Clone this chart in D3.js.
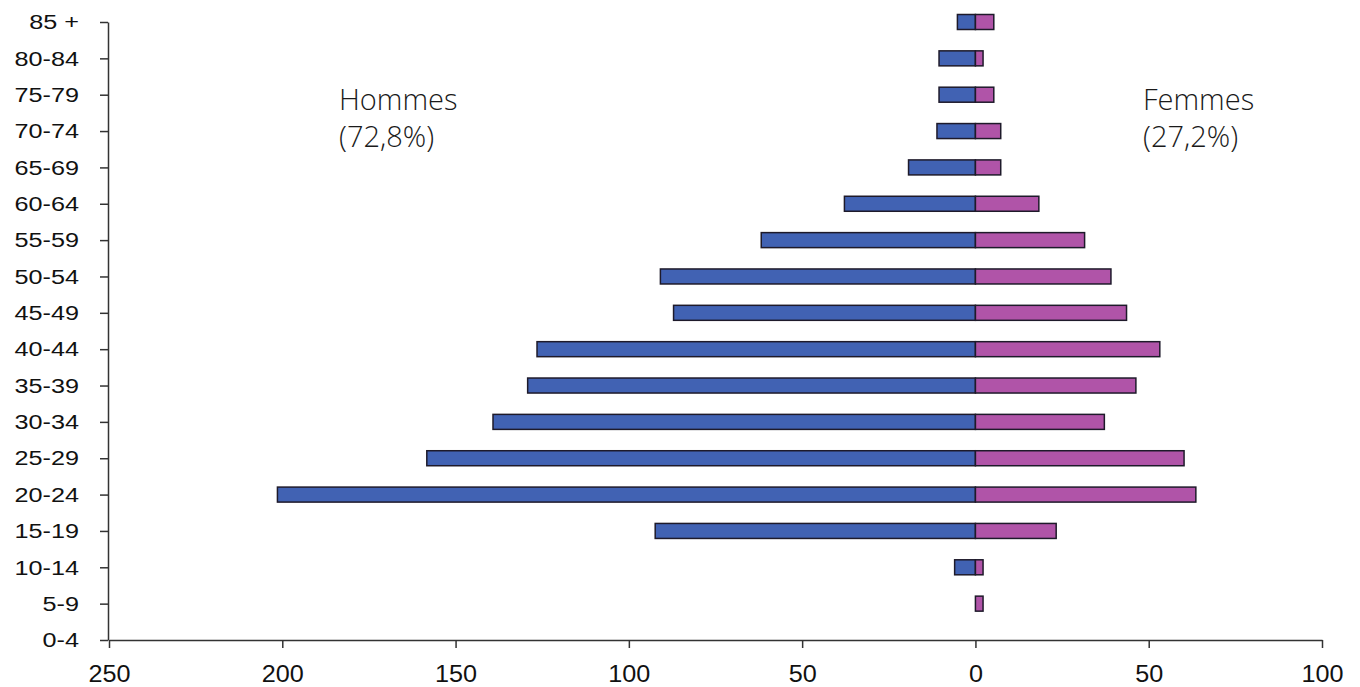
<!DOCTYPE html>
<html>
<head>
<meta charset="utf-8">
<script src="https://cdn.jsdelivr.net/npm/d3@7"></script>
<style>
  html, body { margin: 0; padding: 0; background: #fff; }
  svg { display: block; }
</style>
</head>
<body>
<svg id="chart" width="1360" height="687"></svg>
<script>
// Age groups, bottom to top
const ages = ["0-4","5-9","10-14","15-19","20-24","25-29","30-34","35-39","40-44",
              "45-49","50-54","55-59","60-64","65-69","70-74","75-79","80-84","85 +"];
// Counts per age group
const hommes = [0, 0, 6, 92.4, 201.4, 158.3, 139.2, 129.2, 126.5, 87.1, 90.9, 61.8, 37.8, 19.3, 11.1, 10.5, 10.5, 5.2];
const femmes = [0, 2.2, 2.2, 23.3, 63.6, 60.2, 37.2, 46.3, 53.2, 43.6, 39.1, 31.5, 18.3, 7.3, 7.3, 5.3, 2.2, 5.3];
// Horizontal axis ticks (men to the left of zero, women to the right)
const xTicks = [-250, -200, -150, -100, -50, 0, 50, 100];
const labelHommes = ["Hommes", "(72,8%)"];
const labelFemmes = ["Femmes", "(27,2%)"];

const svg = d3.select("#chart");

const x = d3.scaleLinear().domain([-250, 100]).range([109, 1322]);
const y = d3.scalePoint().domain(ages).range([640, 22]);

const barH = 15;
const blue = "#4162b3";
const pink = "#b054a8";
const edge = "#1e1a2a";

// Bars: men on the negative side, women on the positive side
const menData = ages.map((a, i) => ({ age: a, v: hommes[i] })).filter(d => d.v > 0);
const womenData = ages.map((a, i) => ({ age: a, v: femmes[i] })).filter(d => d.v > 0);

svg.append("g").selectAll("rect").data(menData).join("rect")
  .attr("x", d => x(-d.v))
  .attr("y", d => y(d.age) - barH / 2)
  .attr("width", d => x(0) - x(-d.v))
  .attr("height", barH)
  .attr("fill", blue)
  .attr("stroke", edge)
  .attr("stroke-width", 1.5);

svg.append("g").selectAll("rect").data(womenData).join("rect")
  .attr("x", x(0))
  .attr("y", d => y(d.age) - barH / 2)
  .attr("width", d => x(d.v) - x(0))
  .attr("height", barH)
  .attr("fill", pink)
  .attr("stroke", edge)
  .attr("stroke-width", 1.5);

// Vertical (age) axis
const yAxis = svg.append("g")
  .attr("transform", `translate(${x(-250) - 1},0)`)
  .call(d3.axisLeft(y).tickSize(8).tickSizeOuter(0));
yAxis.select(".domain").attr("stroke", "#333").attr("stroke-width", 1.5);
yAxis.selectAll(".tick line").attr("stroke", "#333").attr("stroke-width", 1.5);
yAxis.selectAll(".tick text")
  .attr("x", -29 / 1.2)
  .attr("transform", "scale(1.2,1)")
  .attr("fill", "#111")
  .style("font-family", "'Liberation Sans', Arial, sans-serif")
  .style("font-size", "21px");

// Horizontal (count) axis
const xAxis = svg.append("g")
  .attr("transform", `translate(0,${y("0-4")})`)
  .call(d3.axisBottom(x).tickValues(xTicks).tickSize(8).tickSizeOuter(0)
    .tickFormat(d => Math.abs(d)));
xAxis.select(".domain").attr("stroke", "#333").attr("stroke-width", 1.5);
xAxis.selectAll(".tick line").attr("stroke", "#333").attr("stroke-width", 1.5);
xAxis.selectAll(".tick text")
  .attr("y", 25)
  .attr("transform", "scale(1.05,1)")
  .attr("fill", "#111")
  .style("font-family", "'Liberation Sans', Arial, sans-serif")
  .style("font-size", "24px");

// Group annotations
function annotate(lines, px) {
  svg.append("text")
    .attr("x", px)
    .attr("y", 110)
    .attr("fill", "#1a1a1a")
    .style("font-family", "'Open Sans', sans-serif")
    .style("font-weight", 300)
    .style("font-size", "29px")
    .selectAll("tspan").data(lines).join("tspan")
    .attr("x", px)
    .attr("dy", (d, i) => i === 0 ? 0 : 37)
    .text(d => d);
}
annotate(labelHommes, 339);
annotate(labelFemmes, 1143);
</script>
</body>
</html>
